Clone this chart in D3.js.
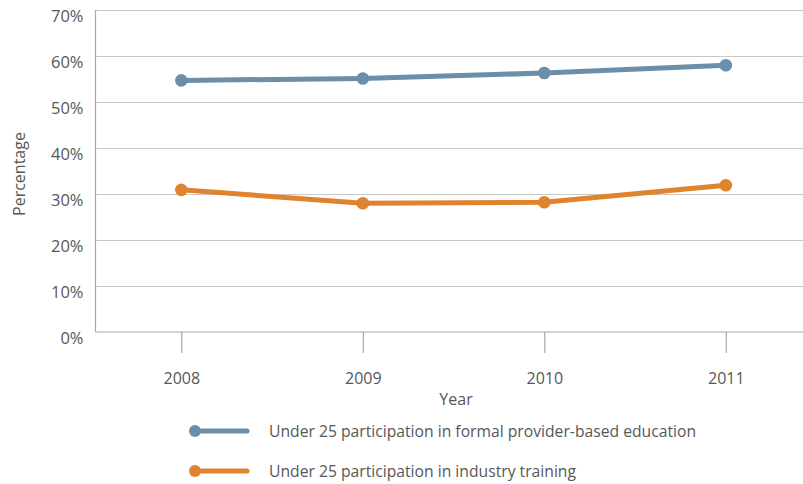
<!DOCTYPE html>
<meta charset="utf-8">
<style>
  body { margin: 0; background: #fff; }
  text { font-family: "Open Sans", sans-serif; fill: #575757; }
  .grid line { stroke: #c8c8c8; stroke-width: 1; }
  .axis path, .axis line { stroke: #a8a8a8; stroke-width: 1.2; }
  .series { fill: none; stroke-width: 5; stroke-linejoin: round; }
</style>
<body>
<script src="https://d3js.org/d3.v7.min.js"></script>
<script>
  // chart data
  const years = ["2008", "2009", "2010", "2011"];
  const formalEducation = [54.7, 55.1, 56.3, 58.0];
  const industryTraining = [30.9, 28.0, 28.2, 31.9];
  const yTicks = [0, 10, 20, 30, 40, 50, 60, 70];
  const seriesNames = [
    "Under 25 participation in formal provider-based education",
    "Under 25 participation in industry training"
  ];
  const seriesColors = ["#6a8fab", "#e0832f"];

  const width = 803, height = 484;
  const plot = { left: 95.5, right: 803, top: 10, bottom: 332 };

  const svg = d3.select("body").append("svg")
    .attr("width", width)
    .attr("height", height);

  const x = d3.scalePoint()
    .domain(years)
    .range([181.3, 725.8]);

  const y = d3.scaleLinear()
    .domain([0, 70])
    .range([plot.bottom, plot.top]);

  // gridlines
  svg.append("g")
    .attr("class", "grid")
    .selectAll("line")
    .data(yTicks.filter(d => d > 0))
    .join("line")
    .attr("x1", plot.left)
    .attr("x2", plot.right)
    .attr("y1", d => Math.round(y(d)) + 0.5)
    .attr("y2", d => Math.round(y(d)) + 0.5);

  // y axis
  const yAxis = svg.append("g")
    .attr("class", "axis")
    .attr("transform", `translate(${plot.left},0)`)
    .call(d3.axisLeft(y).tickValues(yTicks).tickSize(0).tickPadding(12)
      .tickFormat(d => d + "%"));
  yAxis.select(".domain").attr("d", `M0,${plot.top}V${plot.bottom}`);
  yAxis.selectAll("text")
    .attr("dy", "0.72em")
    .attr("y", 0)
    .style("font-size", "16.5px");

  // x axis
  const xAxis = svg.append("g")
    .attr("class", "axis")
    .attr("transform", `translate(0,${plot.bottom})`)
    .call(d3.axisBottom(x).tickSize(21).tickPadding(19.5));
  xAxis.select(".domain").attr("d", `M${plot.left},0H${plot.right}`);
  xAxis.selectAll("text").style("font-size", "16px");

  // axis titles
  svg.append("text")
    .attr("x", 456)
    .attr("y", 404.5)
    .attr("text-anchor", "middle")
    .style("font-size", "16px")
    .text("Year");

  svg.append("text")
    .attr("transform", "translate(25,174) rotate(-90)")
    .attr("text-anchor", "middle")
    .style("font-size", "16px")
    .text("Percentage");

  // series
  const series = [formalEducation, industryTraining];
  const line = d3.line()
    .x((d, i) => x(years[i]))
    .y(d => y(d));

  series.forEach((values, s) => {
    svg.append("path")
      .datum(values)
      .attr("class", "series")
      .attr("stroke", seriesColors[s])
      .attr("d", line);
    svg.append("g")
      .selectAll("circle")
      .data(values)
      .join("circle")
      .attr("cx", (d, i) => x(years[i]))
      .attr("cy", d => y(d))
      .attr("r", 6.3)
      .attr("fill", seriesColors[s]);
  });

  // legend
  const legend = svg.append("g")
    .selectAll("g")
    .data(seriesNames)
    .join("g")
    .attr("transform", (d, i) => `translate(195,${431 + i * 40})`);

  legend.append("line")
    .attr("x1", 0)
    .attr("x2", 52)
    .attr("stroke", (d, i) => seriesColors[i])
    .attr("stroke-width", 5)
    .attr("stroke-linecap", "round");
  legend.append("circle")
    .attr("r", 6)
    .attr("fill", (d, i) => seriesColors[i]);
  legend.append("text")
    .attr("x", 74)
    .attr("y", 5.5)
    .style("font-size", "15.7px")
    .text(d => d);
</script>
</body>
</html>
